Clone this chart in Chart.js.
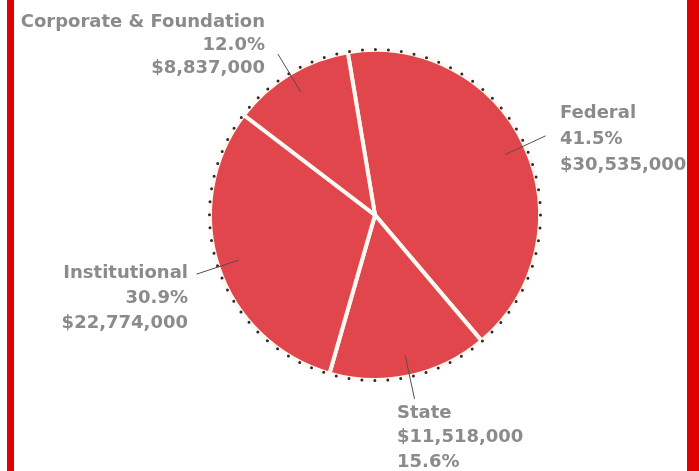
<!DOCTYPE html>
<html>
<head>
<meta charset="utf-8">
<script src="https://cdn.jsdelivr.net/npm/chart.js@4"></script>
<style>
  html, body { margin: 0; padding: 0; background: #fff; }
  #wrap { position: relative; width: 699px; height: 471px; overflow: hidden; }
  .edge { position: absolute; top: 0; bottom: 0; background: #e10000; }
  .edge.left { left: 7px; width: 7px; }
  .edge.right { left: 687px; width: 12px; }
</style>
</head>
<body>
<div id="wrap">
  <canvas id="pie" width="699" height="471"></canvas>
  <div class="edge left"></div>
  <div class="edge right"></div>
</div>
<script>
// funding sources, clockwise from the top
const sources = ["Federal", "State", "Institutional", "Corporate & Foundation"];
const amounts = [30535000, 11518000, 22774000, 8837000];
const shares = ["41.5%", "15.6%", "30.9%", "12.0%"];

// where each callout text sits and in which order its lines go
const callouts = [
  { align: "left", x: 560, y: 113, gap: 26, order: ["name", "share", "money"] },
  { align: "left", x: 397, y: 413, gap: 24.5, order: ["name", "money", "share"] },
  { align: "right", x: 188, y: 273, gap: 25, order: ["name", "share", "money"] },
  { align: "right", x: 265, y: 22, gap: 23, order: ["name", "share", "money"] },
];

const money = (v) => "$" + v.toLocaleString("en-US");

const calloutPlugin = {
  id: "callouts",
  afterDatasetsDraw(chart) {
    const ctx = chart.ctx;
    const arcs = chart.getDatasetMeta(0).data;
    const first = arcs[0].getProps(["x", "y", "outerRadius"], true);

    // dotted rim
    ctx.save();
    ctx.strokeStyle = "#2e2a2a";
    ctx.lineWidth = 3;
    ctx.lineCap = "round";
    ctx.setLineDash([0, 13]);
    ctx.beginPath();
    ctx.arc(first.x, first.y, first.outerRadius + 0.5, 0, Math.PI * 2);
    ctx.stroke();
    ctx.restore();

    arcs.forEach((arc, i) => {
      const p = arc.getProps(["x", "y", "startAngle", "endAngle", "outerRadius"], true);
      const mid = (p.startAngle + p.endAngle) / 2;
      const r0 = p.outerRadius * 0.87;
      const r1 = p.outerRadius * 1.14;
      ctx.save();
      ctx.strokeStyle = "#5a4d4f";
      ctx.lineWidth = 1;
      ctx.beginPath();
      ctx.moveTo(p.x + Math.cos(mid) * r0, p.y + Math.sin(mid) * r0);
      ctx.lineTo(p.x + Math.cos(mid) * r1, p.y + Math.sin(mid) * r1);
      ctx.stroke();
      ctx.restore();

      const c = callouts[i];
      const text = { name: sources[i], share: shares[i], money: money(amounts[i]) };
      ctx.save();
      ctx.fillStyle = "#8a8a8f";
      ctx.font = "bold 18px 'DejaVu Sans'";
      ctx.textAlign = c.align;
      ctx.textBaseline = "middle";
      c.order.forEach((k, j) => ctx.fillText(text[k], c.x, c.y + j * c.gap));
      ctx.restore();
    });
  },
};

new Chart(document.getElementById("pie"), {
  type: "pie",
  data: {
    labels: sources,
    datasets: [
      {
        data: amounts,
        backgroundColor: "#e1464c",
        borderColor: "#fdf8f2",
        borderWidth: 4,
        borderJoinStyle: "miter",
        hoverOffset: 0,
      },
    ],
  },
  options: {
    responsive: false,
    animation: false,
    rotation: -9.5,
    radius: 165,
    layout: { padding: { top: 40, bottom: 81, left: 200, right: 149 } },
    plugins: {
      legend: { display: false },
      tooltip: { enabled: false },
    },
  },
  plugins: [calloutPlugin],
});
</script>
</body>
</html>
